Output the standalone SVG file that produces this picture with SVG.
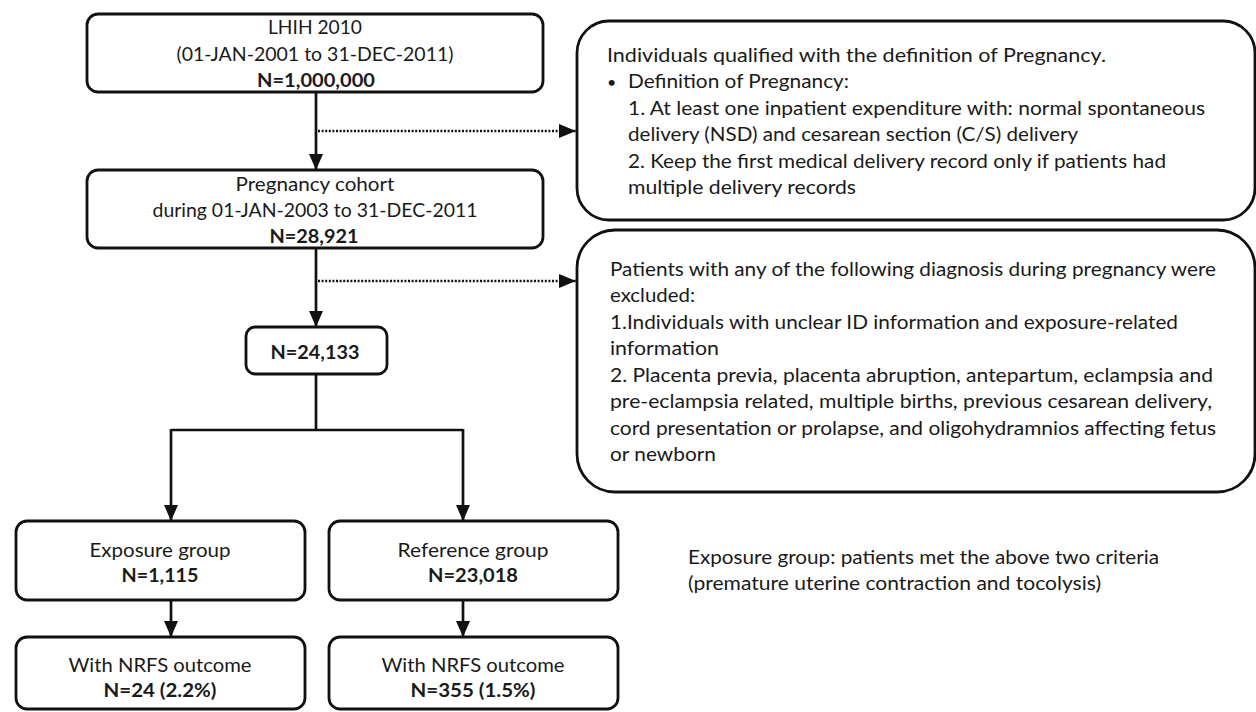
<svg xmlns="http://www.w3.org/2000/svg" width="1256" height="712" viewBox="0 0 1256 712">
<style>
.box{fill:#fff;stroke:#111;stroke-width:2.8}
.t{font-family:Lato,"Liberation Sans",sans-serif;font-size:19.5px;fill:#1a1a1a}
.c{text-anchor:middle}
.b{font-weight:bold}
.ln{fill:none;stroke:#111;stroke-width:2.7}
.dot{fill:none;stroke:#111;stroke-width:2.4;stroke-dasharray:2 1.6}
</style>
<defs>
<marker id="ah" markerUnits="userSpaceOnUse" viewBox="0 0 16 14" refX="16" refY="7" markerWidth="16" markerHeight="14" orient="auto">
<path d="M0,0 L16,7 L0,14 z" fill="#111"/>
</marker>
<marker id="ah2" markerUnits="userSpaceOnUse" viewBox="0 0 17 14" refX="17" refY="7" markerWidth="17" markerHeight="14" orient="auto">
<path d="M0,0 L17,7 L0,14 z" fill="#111"/>
</marker>
</defs>
<rect width="1256" height="712" fill="#fff"/>
<g id="connectors">
<path class="ln" d="M316,92 V170" marker-end="url(#ah)"/>
<path class="ln" d="M316,248 V327" marker-end="url(#ah)"/>
<path class="ln" d="M316,374 V430"/>
<path class="ln" d="M171,430 H463"/>
<path class="ln" d="M171,429 V521" marker-end="url(#ah)"/>
<path class="ln" d="M463,429 V521" marker-end="url(#ah)"/>
<path class="ln" d="M171,600 V637" marker-end="url(#ah)"/>
<path class="ln" d="M463,600 V637" marker-end="url(#ah)"/>
<path class="dot" d="M318,131 H576" marker-end="url(#ah2)"/>
<path class="dot" d="M318,281 H576" marker-end="url(#ah2)"/>
</g>
<g id="n-lhih">
<rect class="box" x="87" y="14" width="456" height="78" rx="11"/>
<text class="t c" x="315" y="34" textLength="94" lengthAdjust="spacingAndGlyphs">LHIH 2010</text>
<text class="t c" x="315" y="61" textLength="277" lengthAdjust="spacingAndGlyphs">(01-JAN-2001 to 31-DEC-2011)</text>
<text class="t c b" x="316" y="87" textLength="118" lengthAdjust="spacingAndGlyphs">N=1,000,000</text>
</g>
<g id="n-pregnancy">
<rect class="box" x="87" y="170" width="456" height="78" rx="11"/>
<text class="t c" x="315" y="191" textLength="159" lengthAdjust="spacingAndGlyphs">Pregnancy cohort</text>
<text class="t c" x="315" y="217" textLength="325" lengthAdjust="spacingAndGlyphs">during 01-JAN-2003 to 31-DEC-2011</text>
<text class="t c b" x="314" y="243" textLength="89" lengthAdjust="spacingAndGlyphs">N=28,921</text>
</g>
<g id="n-24133">
<rect class="box" x="246" y="327" width="141" height="47" rx="9"/>
<text class="t c b" x="315" y="359" textLength="89" lengthAdjust="spacingAndGlyphs">N=24,133</text>
</g>
<g id="n-exposure">
<rect class="box" x="16" y="521" width="289" height="79" rx="11"/>
<text class="t c" x="160" y="557" textLength="141" lengthAdjust="spacingAndGlyphs">Exposure group</text>
<text class="t c b" x="160" y="582" textLength="77" lengthAdjust="spacingAndGlyphs">N=1,115</text>
</g>
<g id="n-reference">
<rect class="box" x="329" y="521" width="289" height="79" rx="11"/>
<text class="t c" x="473" y="557" textLength="151" lengthAdjust="spacingAndGlyphs">Reference group</text>
<text class="t c b" x="473" y="582" textLength="90" lengthAdjust="spacingAndGlyphs">N=23,018</text>
</g>
<g id="n-exp-nrfs">
<rect class="box" x="16" y="637" width="289" height="72" rx="11"/>
<text class="t c" x="160" y="672" textLength="183" lengthAdjust="spacingAndGlyphs">With NRFS outcome</text>
<text class="t c b" x="160" y="697" textLength="113" lengthAdjust="spacingAndGlyphs">N=24 (2.2%)</text>
</g>
<g id="n-ref-nrfs">
<rect class="box" x="329" y="637" width="289" height="72" rx="11"/>
<text class="t c" x="473" y="672" textLength="183" lengthAdjust="spacingAndGlyphs">With NRFS outcome</text>
<text class="t c b" x="473" y="697" textLength="125" lengthAdjust="spacingAndGlyphs">N=355 (1.5%)</text>
</g>
<g id="n-definition">
<rect class="box" x="577" y="21" width="678" height="199" rx="32"/>
<text class="t" x="607" y="62" textLength="499" lengthAdjust="spacingAndGlyphs">Individuals qualified with the definition of Pregnancy.</text>
<text class="t" x="607" y="88" style="font-size:16px">•</text>
<text class="t" x="628" y="88" textLength="221" lengthAdjust="spacingAndGlyphs">Definition of Pregnancy:</text>
<text class="t" x="628" y="115" textLength="577" lengthAdjust="spacingAndGlyphs">1. At least one inpatient expenditure with: normal spontaneous</text>
<text class="t" x="628" y="141" textLength="450" lengthAdjust="spacingAndGlyphs">delivery (NSD) and cesarean section (C/S) delivery</text>
<text class="t" x="628" y="168" textLength="538" lengthAdjust="spacingAndGlyphs">2. Keep the first medical delivery record only if patients had</text>
<text class="t" x="628" y="194" textLength="228" lengthAdjust="spacingAndGlyphs">multiple delivery records</text>
</g>
<g id="n-exclusion">
<rect class="box" x="577" y="230" width="678" height="262" rx="38"/>
<text class="t" x="610" y="276" textLength="606" lengthAdjust="spacingAndGlyphs">Patients with any of the following diagnosis during pregnancy were</text>
<text class="t" x="610" y="302" textLength="85" lengthAdjust="spacingAndGlyphs">excluded:</text>
<text class="t" x="610" y="329" textLength="568" lengthAdjust="spacingAndGlyphs">1.Individuals with unclear ID information and exposure-related</text>
<text class="t" x="610" y="355" textLength="109" lengthAdjust="spacingAndGlyphs">information</text>
<text class="t" x="610" y="382" textLength="603" lengthAdjust="spacingAndGlyphs">2. Placenta previa, placenta abruption, antepartum, eclampsia and</text>
<text class="t" x="610" y="408" textLength="602" lengthAdjust="spacingAndGlyphs">pre-eclampsia related, multiple births, previous cesarean delivery,</text>
<text class="t" x="610" y="435" textLength="606" lengthAdjust="spacingAndGlyphs">cord presentation or prolapse, and oligohydramnios affecting fetus</text>
<text class="t" x="610" y="461" textLength="106" lengthAdjust="spacingAndGlyphs">or newborn</text>
</g>
<g id="n-note">
<text class="t" x="688" y="564" textLength="471" lengthAdjust="spacingAndGlyphs">Exposure group: patients met the above two criteria</text>
<text class="t" x="688" y="590" textLength="413" lengthAdjust="spacingAndGlyphs">(premature uterine contraction and tocolysis)</text>
</g>
</svg>
